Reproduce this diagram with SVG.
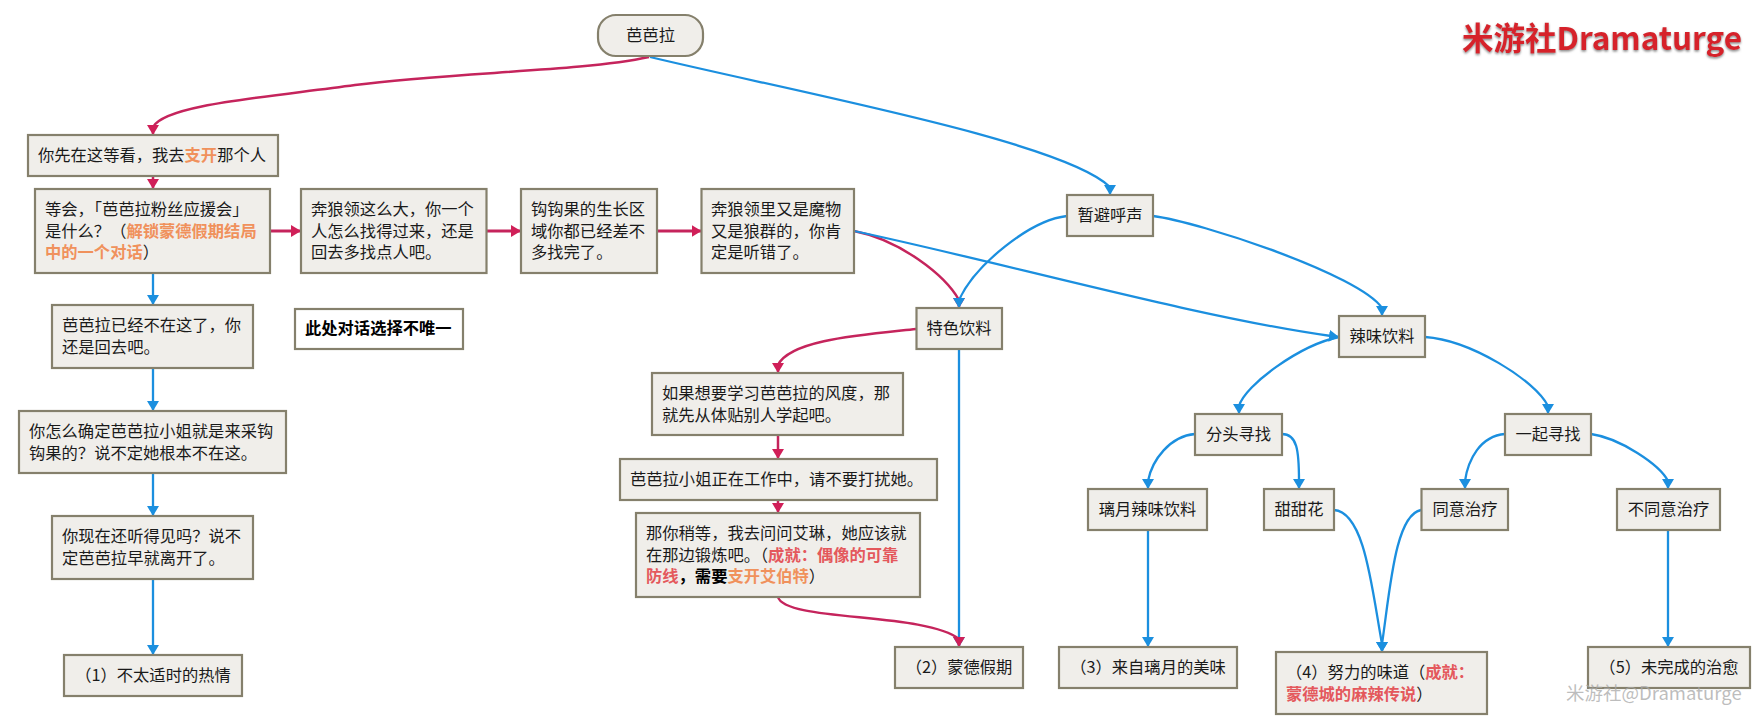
<svg xmlns="http://www.w3.org/2000/svg" width="1758" height="723" viewBox="0 0 1758 723">
<style>
text{font-family:"Noto Sans CJK SC","Noto Sans",sans-serif;font-size:16.3px;fill:#1a1a1a}
.n{fill:#f0eeea;stroke:#85806c;stroke-width:2.2}
.w{fill:#fff;stroke:#85806c;stroke-width:2.2}
.c{text-anchor:middle}
.o{fill:#f0915c;font-weight:700}
.r{fill:#e4585c;font-weight:700}
.b{font-weight:700;fill:#000}
.p,.l{fill:none}
.p{stroke:#c5245c;stroke-width:2.5;marker-end:url(#ap)}
.l{stroke:#1b8fdf;stroke-width:2.3;marker-end:url(#al)}
.h{stroke-width:3}
.mark{font-weight:700;font-size:31.5px;fill:#d6202c;filter:url(#sh)}
.wm{font-size:18.5px;fill:#a8a8a8;fill-opacity:.75}
</style>
<defs>
<marker id="ap" markerUnits="userSpaceOnUse" markerWidth="11" markerHeight="12" refX="10" refY="6" orient="auto"><path d="M0,0L10,6L0,12Z" fill="#d01f58"/></marker>
<marker id="al" markerUnits="userSpaceOnUse" markerWidth="11" markerHeight="12" refX="10" refY="6" orient="auto"><path d="M0,0L10,6L0,12Z" fill="#1b8fdf"/></marker>
<filter id="sh" x="-5%" y="-20%" width="110%" height="150%"><feDropShadow dx="0" dy="1.5" stdDeviation="0.8" flood-color="#888"/></filter>
</defs>
<g id="connectors">
<path class="p" d="M649,57C580,72 450,72 355,85C260,98 165,105 153,127V135"/>
<path class="l" d="M650,57C800,93 1065,142 1110,187V195"/>
<path class="p" d="M153,176V189"/>
<path class="l" d="M153,273V305"/>
<path class="l" d="M153,368V411"/>
<path class="l" d="M153,473V516"/>
<path class="l" d="M153,579V655"/>
<path class="p h" d="M270,231H301"/>
<path class="p h" d="M486.5,231H521"/>
<path class="p h" d="M657,231H701.5"/>
<path class="p" d="M854,231C900,240 945,275 959,300V308"/>
<path class="l" d="M854,231C1000,262 1200,318 1331,336L1339,337"/>
<path class="l" d="M1067,216C1030,220 975,265 959,300V308"/>
<path class="l" d="M1153,216C1200,222 1360,275 1382,308V316"/>
<path class="p" d="M916,329C860,335 790,340 778,365V373"/>
<path class="l" d="M959,349V647"/>
<path class="p" d="M778,435V459"/>
<path class="p" d="M778,500V513"/>
<path class="p" d="M778,597C785,622 925,612 959,639V647"/>
<path class="l" d="M1339,337C1300,345 1245,385 1239,406V414"/>
<path class="l" d="M1425,337C1470,340 1535,380 1548,406V414"/>
<path class="l" d="M1195,434C1170,436 1152,460 1148,481V489"/>
<path class="l" d="M1282,434C1297,434 1299,450 1299,481V489"/>
<path class="l" d="M1505,434C1480,436 1468,460 1465,481V489"/>
<path class="l" d="M1591,434C1620,438 1660,465 1668,481V489"/>
<path class="l" d="M1148,530V647"/>
<path class="l" d="M1334,510C1365,512 1372,590 1382,644V652"/>
<path class="l" d="M1421,510C1395,515 1390,590 1382,644V652"/>
<path class="l" d="M1668,530V647"/>
</g>
<g id="n0"><rect class="n" x="598" y="15" width="105" height="41" rx="18"/><text class="c" x="650.5" y="41">芭芭拉</text></g>
<g id="n1"><rect class="n" x="28" y="135" width="250" height="41"/><text x="38" y="161">你先在这等看，我去<tspan class="o">支开</tspan>那个人</text></g>
<g id="n2"><rect class="n" x="35" y="189" width="235" height="84"/><text x="45" y="215">等会，「芭芭拉粉丝应援会」</text><text x="45" y="237">是什么？（<tspan class="o">解锁蒙德假期结局</tspan></text><text x="45" y="258"><tspan class="o">中的一个对话</tspan>）</text></g>
<g id="n3"><rect class="n" x="301" y="189" width="185.5" height="84"/><text x="311" y="215">奔狼领这么大，你一个</text><text x="311" y="237">人怎么找得过来，还是</text><text x="311" y="258">回去多找点人吧。</text></g>
<g id="n4"><rect class="n" x="521" y="189" width="136" height="84"/><text x="531" y="215">钩钩果的生长区</text><text x="531" y="237">域你都已经差不</text><text x="531" y="258">多找完了。</text></g>
<g id="n5"><rect class="n" x="701.5" y="189" width="152.5" height="84"/><text x="711" y="215">奔狼领里又是魔物</text><text x="711" y="237">又是狼群的，你肯</text><text x="711" y="258">定是听错了。</text></g>
<g id="n6"><rect class="n" x="52" y="305" width="201" height="63"/><text x="62" y="331">芭芭拉已经不在这了，你</text><text x="62" y="353">还是回去吧。</text></g>
<g id="n7"><rect class="w" x="295" y="309" width="168" height="40"/><text class="b" x="305" y="334">此处对话选择不唯一</text></g>
<g id="n8"><rect class="n" x="19" y="411" width="267" height="62"/><text x="29" y="437">你怎么确定芭芭拉小姐就是来采钩</text><text x="29" y="459">钩果的？说不定她根本不在这。</text></g>
<g id="n9"><rect class="n" x="52" y="516" width="201" height="63"/><text x="62" y="542">你现在还听得见吗？说不</text><text x="62" y="564">定芭芭拉早就离开了。</text></g>
<g id="n10"><rect class="n" x="64" y="655" width="178" height="41"/><text class="c" x="153" y="681">（1）不太适时的热情</text></g>
<g id="n11"><rect class="n" x="1067" y="195" width="86" height="41"/><text class="c" x="1110" y="221">暂避呼声</text></g>
<g id="n12"><rect class="n" x="916.5" y="308" width="85.5" height="41"/><text class="c" x="959" y="334">特色饮料</text></g>
<g id="n13"><rect class="n" x="1339" y="316" width="86" height="41"/><text class="c" x="1382" y="342">辣味饮料</text></g>
<g id="n14"><rect class="n" x="652" y="373" width="251" height="62"/><text x="662" y="399">如果想要学习芭芭拉的风度，那</text><text x="662" y="421">就先从体贴别人学起吧。</text></g>
<g id="n15"><rect class="n" x="620" y="459" width="317" height="41"/><text x="630" y="485">芭芭拉小姐正在工作中，请不要打扰她。</text></g>
<g id="n16"><rect class="n" x="636" y="513" width="284" height="84"/><text x="646" y="539">那你稍等，我去问问艾琳，她应该就</text><text x="646" y="561">在那边锻炼吧。（<tspan class="r">成就：偶像的可靠</tspan></text><text x="646" y="582"><tspan class="r">防线</tspan><tspan class="b">，需要</tspan><tspan class="o">支开艾伯特</tspan>）</text></g>
<g id="n17"><rect class="n" x="895" y="647" width="128" height="41"/><text class="c" x="959" y="673">（2）蒙德假期</text></g>
<g id="n18"><rect class="n" x="1195" y="414" width="87" height="41"/><text class="c" x="1238.5" y="440">分头寻找</text></g>
<g id="n19"><rect class="n" x="1505" y="414" width="86" height="41"/><text class="c" x="1548" y="440">一起寻找</text></g>
<g id="n20"><rect class="n" x="1088" y="489" width="119" height="41"/><text class="c" x="1147.5" y="515">璃月辣味饮料</text></g>
<g id="n21"><rect class="n" x="1264" y="489" width="70" height="41"/><text class="c" x="1299" y="515">甜甜花</text></g>
<g id="n22"><rect class="n" x="1421.5" y="489" width="86.5" height="41"/><text class="c" x="1465" y="515">同意治疗</text></g>
<g id="n23"><rect class="n" x="1617" y="489" width="103" height="41"/><text class="c" x="1668.5" y="515">不同意治疗</text></g>
<g id="n24"><rect class="n" x="1059" y="647" width="178" height="41"/><text class="c" x="1148" y="673">（3）来自璃月的美味</text></g>
<g id="n25"><rect class="n" x="1276" y="652" width="211" height="62"/><text x="1286" y="678">（4）努力的味道（<tspan class="r">成就：</tspan></text><text x="1286" y="700"><tspan class="r">蒙德城的麻辣传说</tspan>）</text></g>
<g id="n26"><rect class="n" x="1588" y="647" width="162" height="41"/><text class="c" x="1669" y="673">（5）未完成的治愈</text></g>
<text class="mark" x="1462" y="50">米游社Dramaturge</text>
<text class="wm" x="1566" y="700">米游社@Dramaturge</text>
</svg>
